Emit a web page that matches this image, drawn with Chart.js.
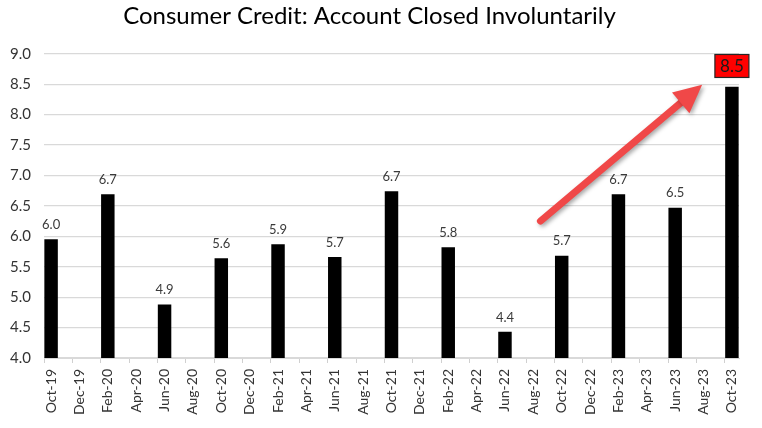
<!DOCTYPE html>
<html>
<head>
<meta charset="utf-8">
<script src="https://cdn.jsdelivr.net/npm/chart.js@4"></script>
<style>
  html, body { margin: 0; padding: 0; background: #fff; }
  #wrap { width: 762px; height: 428px; }
</style>
</head>
<body>
<div id="wrap"><canvas id="chart"></canvas></div>
<script>
// Monthly categories, Oct-19 .. Oct-23 (only every other one gets a label)
const months = [
    'Oct-19', 'Nov-19', 'Dec-19', 'Jan-20', 'Feb-20', 'Mar-20', 'Apr-20', 'May-20', 'Jun-20', 'Jul-20',
    'Aug-20', 'Sep-20', 'Oct-20', 'Nov-20', 'Dec-20', 'Jan-21', 'Feb-21', 'Mar-21', 'Apr-21', 'May-21',
    'Jun-21', 'Jul-21', 'Aug-21', 'Sep-21', 'Oct-21', 'Nov-21', 'Dec-21', 'Jan-22', 'Feb-22', 'Mar-22',
    'Apr-22', 'May-22', 'Jun-22', 'Jul-22', 'Aug-22', 'Sep-22', 'Oct-22', 'Nov-22', 'Dec-22', 'Jan-23',
    'Feb-23', 'Mar-23', 'Apr-23', 'May-23', 'Jun-23', 'Jul-23', 'Aug-23', 'Sep-23', 'Oct-23'
];

// Survey months that have a reading
const surveyMonths = ['Oct-19', 'Feb-20', 'Jun-20', 'Oct-20', 'Feb-21', 'Jun-21', 'Oct-21',
                      'Feb-22', 'Jun-22', 'Oct-22', 'Feb-23', 'Jun-23', 'Oct-23'];
const closedValues = [5.95, 6.69, 4.88, 5.64, 5.87, 5.66, 6.74, 5.82, 4.43, 5.68, 6.69, 6.47, 8.46];

const yTicks = [4.0, 4.5, 5.0, 5.5, 6.0, 6.5, 7.0, 7.5, 8.0, 8.5, 9.0];

const barData = months.map(m => {
    const i = surveyMonths.indexOf(m);
    return i === -1 ? null : closedValues[i];
});

const FONT = 'Lato, "Open Sans", sans-serif';

// Value labels, red call-out box for the latest reading and the trend arrow
const labelsPlugin = {
    id: 'barLabels',
    afterDatasetsDraw(chart) {
        const ctx = chart.ctx;
        const meta = chart.getDatasetMeta(0);
        const xs = chart.scales.x;
        const ys = chart.scales.y;
        const lastIdx = months.indexOf(surveyMonths[surveyMonths.length - 1]);

        ctx.save();
        ctx.textAlign = 'center';
        ctx.textBaseline = 'bottom';
        meta.data.forEach((bar, i) => {
            const v = barData[i];
            if (v === null || i === lastIdx) return;
            ctx.font = '13px ' + FONT;
            ctx.fillStyle = '#3a3a3a';
            ctx.fillText(v.toFixed(1), bar.x, bar.y - 8);
        });

        // arrow
        const x0 = xs.getPixelForValue(34.5), y0 = ys.getPixelForValue(6.25);
        const x1 = xs.getPixelForValue(45.9), y1 = ys.getPixelForValue(8.49);
        const ang = Math.atan2(y1 - y0, x1 - x0);
        const headLen = 28, headHalf = 13.5;
        const bx = x1 - headLen * Math.cos(ang), by = y1 - headLen * Math.sin(ang);
        ctx.shadowColor = 'rgba(0,0,0,0.35)';
        ctx.shadowBlur = 4;
        ctx.shadowOffsetX = 2;
        ctx.shadowOffsetY = 2;
        ctx.strokeStyle = '#F04848';
        ctx.fillStyle = '#F04848';
        ctx.lineWidth = 7;
        ctx.lineCap = 'round';
        ctx.beginPath();
        ctx.moveTo(x0, y0);
        ctx.lineTo(bx + 4 * Math.cos(ang), by + 4 * Math.sin(ang));
        ctx.stroke();
        ctx.beginPath();
        ctx.moveTo(x1, y1);
        ctx.lineTo(bx + headHalf * Math.sin(ang), by - headHalf * Math.cos(ang));
        ctx.lineTo(bx - headHalf * Math.sin(ang), by + headHalf * Math.cos(ang));
        ctx.closePath();
        ctx.fill();
        ctx.shadowColor = 'transparent';

        // latest value call-out
        const bar = meta.data[lastIdx];
        const cy = ys.getPixelForValue(8.8);
        const w = 34, h = 23;
        ctx.fillStyle = '#FF0000';
        ctx.fillRect(bar.x - w / 2, cy - h / 2, w, h);
        ctx.strokeStyle = '#262626';
        ctx.lineWidth = 1.2;
        ctx.strokeRect(bar.x - w / 2, cy - h / 2, w, h);
        ctx.fillStyle = '#1a1a1a';
        ctx.font = '17px ' + FONT;
        ctx.textBaseline = 'middle';
        ctx.fillText(barData[lastIdx].toFixed(1), bar.x, cy + 1);
        ctx.restore();
    }
};

const chart = new Chart(document.getElementById('chart'), {
    type: 'bar',
    data: {
        labels: months,
        datasets: [{
            data: barData,
            backgroundColor: '#000000',
            barPercentage: 0.95,
            categoryPercentage: 1.0
        }]
    },
    options: {
        responsive: true,
        maintainAspectRatio: false,
        animation: false,
        layout: { padding: { left: 0, right: 23, top: 0, bottom: 0 } },
        plugins: {
            legend: { display: false },
            tooltip: { enabled: false },
            title: {
                display: true,
                text: 'Consumer Credit: Account Closed Involuntarily',
                color: '#000000',
                font: { family: FONT, size: 24, weight: 'normal' },
                padding: { top: 2, bottom: 23 }
            }
        },
        scales: {
            x: {
                grid: {
                    offset: true,
                    drawOnChartArea: false,
                    drawTicks: true,
                    tickLength: 5,
                    color: c => (c.index % 2 === 0 ? '#d0d0d0' : 'rgba(0,0,0,0)')
                },
                border: { color: '#d9d9d9' },
                ticks: {
                    autoSkip: false,
                    maxRotation: 90,
                    minRotation: 90,
                    padding: 6,
                    color: '#333333',
                    font: { family: FONT, size: 14 },
                    callback: (v, i) => (i % 2 === 0 ? months[i] : '')
                },
                afterFit: s => { s.height = 70; }
            },
            y: {
                min: 4,
                max: 9,
                afterBuildTicks: s => { s.ticks = yTicks.map(v => ({ value: v })); },
                grid: { color: '#d9d9d9', lineWidth: 1.3, drawTicks: false },
                border: { display: false },
                ticks: {
                    padding: 13,
                    color: '#333333',
                    font: { family: FONT, size: 15 },
                    callback: v => v.toFixed(1)
                },
                afterFit: s => { s.width = 44; }
            }
        }
    },
    plugins: [labelsPlugin]
});
</script>
</body>
</html>
